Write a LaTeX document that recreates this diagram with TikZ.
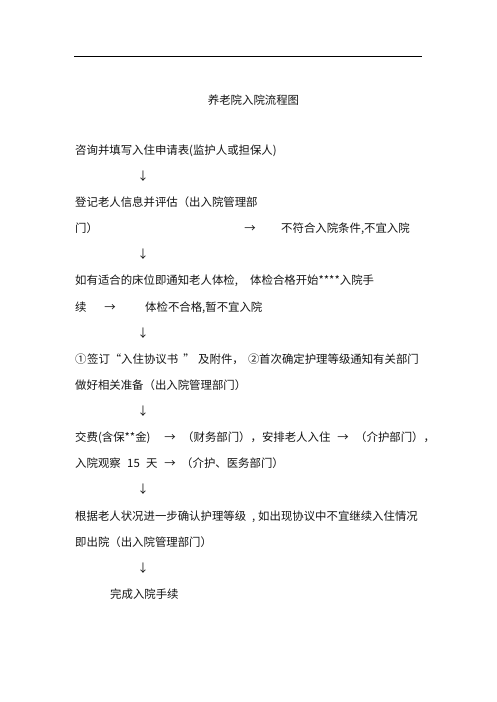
\documentclass[tikz,border=0pt]{standalone}
\usepackage{fontspec}
\newfontfamily\cjk{Noto Sans CJK SC}
\begin{document}
\begin{tikzpicture}[x=1pt,y=-1pt,
  txt/.style={inner sep=0pt, anchor=base west, font=\cjk\fontsize{11.4}{13}\selectfont, text=black!92},
  mid/.style={txt, anchor=base},
  rule/.style={line width=0.9pt, draw=black}]
\useasboundingbox (0,0) rectangle (496,702);
\coordinate (rl) at (74,56);
\coordinate (rr) at (422,56);
\draw[rule] (rl) -- (rr);
\node[mid] (title) at (253.5,104.3) {养老院入院流程图};
% step 1
\node[txt] (l0) at (75,154.3) {咨询并填写入住申请表(监护人或担保人)};
\node[mid] (a1) at (143,180.4) {↓};
\node[txt] (l2) at (75,206.5) {登记老人信息并评估（出入院管理部};
\node[txt] (l3) at (75,232.7) {门）};
\node[mid] (l3a) at (250,232.7) {→};
\node[txt] (l3b) at (281,232.7) {不符合入院条件,不宜入院};
\node[mid] (a4) at (143,258.8) {↓};
\node[txt] (l5) at (75,284.9) {如有适合的床位即通知老人体检,};
\node[txt] (l5b) at (250,284.9) {体检合格开始****入院手};
\node[txt] (l6) at (75,311) {续};
\node[mid] (l6a) at (110,311) {→};
\node[txt] (l6b) at (145,311) {体检不合格,暂不宜入院};
\node[mid] (a7) at (143,337.1) {↓};
\node[txt] (l8) at (75,363.3) {①};
\node[txt] (l8s) at (87,363.3) {签订};
\node[mid] (l8q1) at (115.5,363.3) {“};
\node[txt] (l8b) at (121,363.3) {入住协议书};
\node[mid] (l8q2) at (189,363.3) {”};
\node[txt] (l8c) at (198,363.3) {及附件，};
\node[txt] (l8d) at (248,363.3) {②};
\node[txt] (l8e) at (259,363.3) {首次确定护理等级通知有关部门};
\node[txt] (l9) at (75,389.4) {做好相关准备（出入院管理部门）};
\node[mid] (a10) at (143,415.5) {↓};
\node[txt] (l11) at (75,441.6) {交费(含保**金)};
\node[mid] (l11a) at (170,441.6) {→};
\node[txt] (l11b) at (182,441.6) {（财务部门），安排老人入住};
\node[mid] (l11c) at (343,441.6) {→};
\node[txt] (l11d) at (355,441.6) {（介护部门），};
\node[txt] (l12) at (75,467.7) {入院观察};
\node[txt] (l12n) at (127,467.7) {15};
\node[txt] (l12t) at (146,467.7) {天};
\node[mid] (l12a) at (170,467.7) {→};
\node[txt] (l12b) at (181,467.7) {（介护、医务部门）};
\node[mid] (a13) at (143,493.9) {↓};
\node[txt] (l14) at (75,520) {根据老人状况进一步确认护理等级};
\node[txt] (l14c) at (252,520) {,};
\node[txt] (l14b) at (258,520) {如出现协议中不宜继续入住情况};
\node[txt] (l15) at (75,546.1) {即出院（出入院管理部门）};
\node[mid] (a16) at (143,572.2) {↓};
\node[txt] (l17) at (110,598.3) {完成入院手续};
\end{tikzpicture}
\end{document}
